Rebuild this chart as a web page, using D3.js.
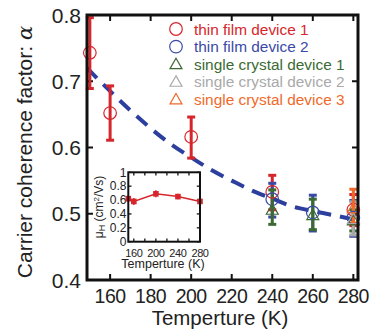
<!DOCTYPE html>
<html>
<head>
<meta charset="utf-8">
<script src="https://d3js.org/d3.v7.min.js"></script>
<style>
  body { margin: 0; background: #fff; }
  svg { display: block; font-family: "Liberation Sans", Arial, Helvetica, sans-serif; }
</style>
</head>
<body>
<div id="chart"></div>
<script>
// ---- data ----
const seriesNames = ['thin film device 1', 'thin film device 2', 'single crystal device 1', 'single crystal device 2', 'single crystal device 3'];
const seriesColors = ['#d7262b', '#3a4aa6', '#3b6a32', '#a9a9a9', '#ef6a2a'];
const seriesShapes = ['circle', 'circle', 'triangle', 'triangle', 'triangle'];

const tf1Temp = [150, 160, 200, 240, 280];
const tf1Alpha = [0.743, 0.652, 0.616, 0.533, 0.506];
const tf1Low = [0.689, 0.611, 0.584, 0.506, 0.482];
const tf1High = [0.796, 0.693, 0.646, 0.558, 0.529];

const tf2Temp = [240, 260, 280];
const tf2Alpha = [0.522, 0.502, 0.494];
const tf2Low = [0.495, 0.474, 0.466];
const tf2High = [0.546, 0.528, 0.520];

const sc1Temp = [240, 260, 280];
const sc1Alpha = [0.506, 0.498, 0.490];
const sc1Low = [0.484, 0.476, 0.474];
const sc1High = [0.536, 0.522, 0.506];

const sc2Temp = [280];
const sc2Alpha = [0.492];
const sc2Low = [0.468];
const sc2High = [0.518];

const sc3Temp = [280];
const sc3Alpha = [0.508];
const sc3Low = [0.486];
const sc3High = [0.537];

const fitTemp = [148.6, 160, 170, 180, 190, 200, 210, 220, 230, 240, 250, 260, 270, 282.3];
const fitAlpha = [0.72, 0.685, 0.656, 0.629, 0.605, 0.585, 0.566, 0.55, 0.535, 0.523, 0.511, 0.504, 0.498, 0.49];

const xTicks = [160, 180, 200, 220, 240, 260, 280];
const yTicks = [0.4, 0.5, 0.6, 0.7, 0.8];

// inset: Hall mobility
const insetTemp = [150, 160, 200, 240, 280];
const insetMu = [0.62, 0.58, 0.69, 0.65, 0.58];
const insetErr = [0.05, 0.05, 0.05, 0.04, 0.03];
const insetXTicks = [160, 180, 200, 220, 240, 260, 280];
const insetXLabels = [160, 200, 240, 280];
const insetYTicks = [0, 0.2, 0.4, 0.6, 0.8, 1];

// ---- drawing ----
const W = 373, H = 329;
const svg = d3.select('#chart').append('svg').attr('width', W).attr('height', H);

const x = d3.scaleLinear().domain([148.6, 282.3]).range([87, 358]);
const y = d3.scaleLinear().domain([0.4, 0.8]).range([280, 15]);

const tickLen = 6;
const axisG = svg.append('g');

// inward ticks on all four sides
const xt = axisG.selectAll('.xt').data(xTicks).enter();
xt.append('line').attr('x1', d => x(d)).attr('x2', d => x(d)).attr('y1', 280).attr('y2', 280 - tickLen)
  .attr('stroke', '#111').attr('stroke-width', 2);
xt.append('line').attr('x1', d => x(d)).attr('x2', d => x(d)).attr('y1', 15).attr('y2', 15 + tickLen)
  .attr('stroke', '#111').attr('stroke-width', 2);
xt.append('text').attr('x', d => x(d)).attr('y', 303).attr('text-anchor', 'middle')
  .style('font-size', '19.5px').style('letter-spacing', '-0.5px').attr('fill', '#222').text(d => d);

const yt = axisG.selectAll('.yt').data(yTicks).enter();
yt.append('line').attr('x1', 87).attr('x2', 87 + tickLen).attr('y1', d => y(d)).attr('y2', d => y(d))
  .attr('stroke', '#111').attr('stroke-width', 2);
yt.append('line').attr('x1', 358).attr('x2', 358 - tickLen).attr('y1', d => y(d)).attr('y2', d => y(d))
  .attr('stroke', '#111').attr('stroke-width', 2);
yt.append('text').attr('x', 81).attr('y', d => y(d) + 7.5).attr('text-anchor', 'end')
  .style('font-size', '21px').attr('fill', '#222').text(d => d.toFixed(1));

// fit curve (dashed)
const fitData = fitTemp.map((t, i) => [t, fitAlpha[i]]);
svg.append('path')
  .datum(fitData)
  .attr('d', d3.line().x(d => x(d[0])).y(d => y(d[1])).curve(d3.curveMonotoneX))
  .attr('fill', 'none')
  .attr('stroke', '#2c3f9e')
  .attr('stroke-width', 4)
  .attr('stroke-dasharray', '14,9');

// data series
const allSeries = [
  { T: tf1Temp, v: tf1Alpha, lo: tf1Low, hi: tf1High },
  { T: tf2Temp, v: tf2Alpha, lo: tf2Low, hi: tf2High },
  { T: sc1Temp, v: sc1Alpha, lo: sc1Low, hi: sc1High },
  { T: sc2Temp, v: sc2Alpha, lo: sc2Low, hi: sc2High },
  { T: sc3Temp, v: sc3Alpha, lo: sc3Low, hi: sc3High }
];

const triPath = d3.symbol().type(d3.symbolTriangle).size(62);

function drawMarker(g, shape, cx, cy, color) {
  if (shape === 'circle') {
    g.append('circle').attr('cx', cx).attr('cy', cy).attr('r', 6.3)
      .attr('fill', 'none').attr('stroke', color).attr('stroke-width', 1.2);
  } else {
    g.append('path').attr('d', triPath()).attr('transform', `translate(${cx},${cy + 1})`)
      .attr('fill', 'none').attr('stroke', color).attr('stroke-width', 1.2);
  }
}

// error bars first, markers on top
allSeries.forEach((s, k) => {
  const g = svg.append('g');
  const c = seriesColors[k];
  s.T.forEach((t, i) => {
    const cx = x(t);
    g.append('line').attr('x1', cx).attr('x2', cx).attr('y1', y(s.lo[i])).attr('y2', y(s.hi[i]))
      .attr('stroke', c).attr('stroke-width', 3);
    [s.lo[i], s.hi[i]].forEach(e => {
      g.append('line').attr('x1', cx - 4).attr('x2', cx + 4).attr('y1', y(e)).attr('y2', y(e))
        .attr('stroke', c).attr('stroke-width', 3);
    });
  });
});
allSeries.forEach((s, k) => {
  const g = svg.append('g');
  s.T.forEach((t, i) => drawMarker(g, seriesShapes[k], x(t), y(s.v[i]), seriesColors[k]));
});

// frame
svg.append('rect').attr('x', 87).attr('y', 15).attr('width', 271).attr('height', 265)
  .attr('fill', 'none').attr('stroke', '#111').attr('stroke-width', 3);

// legend
const legend = svg.append('g');
seriesNames.forEach((name, i) => {
  const ly = 29 + i * 17.6;
  drawMarker(legend, seriesShapes[i], 176, ly, seriesColors[i]);
  legend.append('text').attr('x', 194).attr('y', ly + 5.5)
    .style('font-size', '15.4px').attr('fill', seriesColors[i]).text(name);
});

// axis titles
svg.append('text').attr('x', 220).attr('y', 325).attr('text-anchor', 'middle')
  .style('font-size', '20.5px').attr('fill', '#222').text('Temperture (K)');
const yTitle = svg.append('text').attr('transform', 'translate(32,152) rotate(-90)')
  .attr('text-anchor', 'middle').style('font-size', '21px').attr('fill', '#222');
yTitle.append('tspan').text('Carrier coherence factor: ');
yTitle.append('tspan').style('font-style', 'italic').style('font-family', '"DejaVu Serif", serif').text('α');

// ---- inset ----
const ix = d3.scaleLinear().domain([150, 280]).range([128.3, 200]);
const iy = d3.scaleLinear().domain([0, 1]).range([241.7, 172.3]);
const inset = svg.append('g');
inset.append('rect').attr('x', 128.3).attr('y', 172.3).attr('width', 71.7).attr('height', 69.4)
  .attr('fill', '#fff');

const ixt = inset.selectAll('.ixt').data(insetXTicks).enter();
ixt.append('line').attr('x1', d => ix(d)).attr('x2', d => ix(d)).attr('y1', 241.7).attr('y2', 238.5)
  .attr('stroke', '#111').attr('stroke-width', 1.3);
ixt.append('line').attr('x1', d => ix(d)).attr('x2', d => ix(d)).attr('y1', 172.3).attr('y2', 175.5)
  .attr('stroke', '#111').attr('stroke-width', 1.3);
inset.selectAll('.ixl').data(insetXLabels).enter().append('text')
  .attr('x', d => ix(d)).attr('y', 256.5).attr('text-anchor', 'middle')
  .style('font-size', '11px').style('letter-spacing', '-0.4px').attr('fill', '#222').text(d => d);

const iyt = inset.selectAll('.iyt').data(insetYTicks).enter();
iyt.append('line').attr('x1', 128.3).attr('x2', 131.5).attr('y1', d => iy(d)).attr('y2', d => iy(d))
  .attr('stroke', '#111').attr('stroke-width', 1.3);
iyt.append('line').attr('x1', 200).attr('x2', 196.8).attr('y1', d => iy(d)).attr('y2', d => iy(d))
  .attr('stroke', '#111').attr('stroke-width', 1.3);
iyt.append('text').attr('x', 126.5).attr('y', d => iy(d) + 4.2).attr('text-anchor', 'end')
  .style('font-size', '12px').attr('fill', '#222').text(d => d === 0 || d === 1 ? d : d.toFixed(1));

const insetData = insetTemp.map((t, i) => [t, insetMu[i], insetErr[i]]);
inset.append('path').datum(insetData)
  .attr('d', d3.line().x(d => ix(d[0])).y(d => iy(d[1])))
  .attr('fill', 'none').attr('stroke', '#d7262b').attr('stroke-width', 1.5);
const ipt = inset.selectAll('.ipt').data(insetData).enter().append('g').attr('fill', '#d7262b');
ipt.append('line').attr('x1', d => ix(d[0])).attr('x2', d => ix(d[0]))
  .attr('y1', d => iy(d[1] - d[2])).attr('y2', d => iy(d[1] + d[2]))
  .attr('stroke', '#d7262b').attr('stroke-width', 1.5);
ipt.append('rect').attr('x', d => ix(d[0]) - 2.8).attr('y', d => iy(d[1]) - 2.8)
  .attr('width', 5.6).attr('height', 5.6);

inset.append('rect').attr('x', 128.3).attr('y', 172.3).attr('width', 71.7).attr('height', 69.4)
  .attr('fill', 'none').attr('stroke', '#111').attr('stroke-width', 2);

inset.append('text').attr('x', 163).attr('y', 268).attr('text-anchor', 'middle')
  .style('font-size', '12.5px').attr('fill', '#222').text('Temperture (K)');
const iyTitle = inset.append('text').attr('transform', 'translate(103,207) rotate(-90)')
  .attr('text-anchor', 'middle').style('font-size', '12px').attr('fill', '#222');
iyTitle.append('tspan').text('μ');
iyTitle.append('tspan').attr('dy', 2).style('font-size', '9px').text('H');
iyTitle.append('tspan').attr('dy', -2).text(' (cm');
iyTitle.append('tspan').attr('dy', -4).style('font-size', '8px').text('2');
iyTitle.append('tspan').attr('dy', 4).text('/Vs)');
</script>
</body>
</html>
